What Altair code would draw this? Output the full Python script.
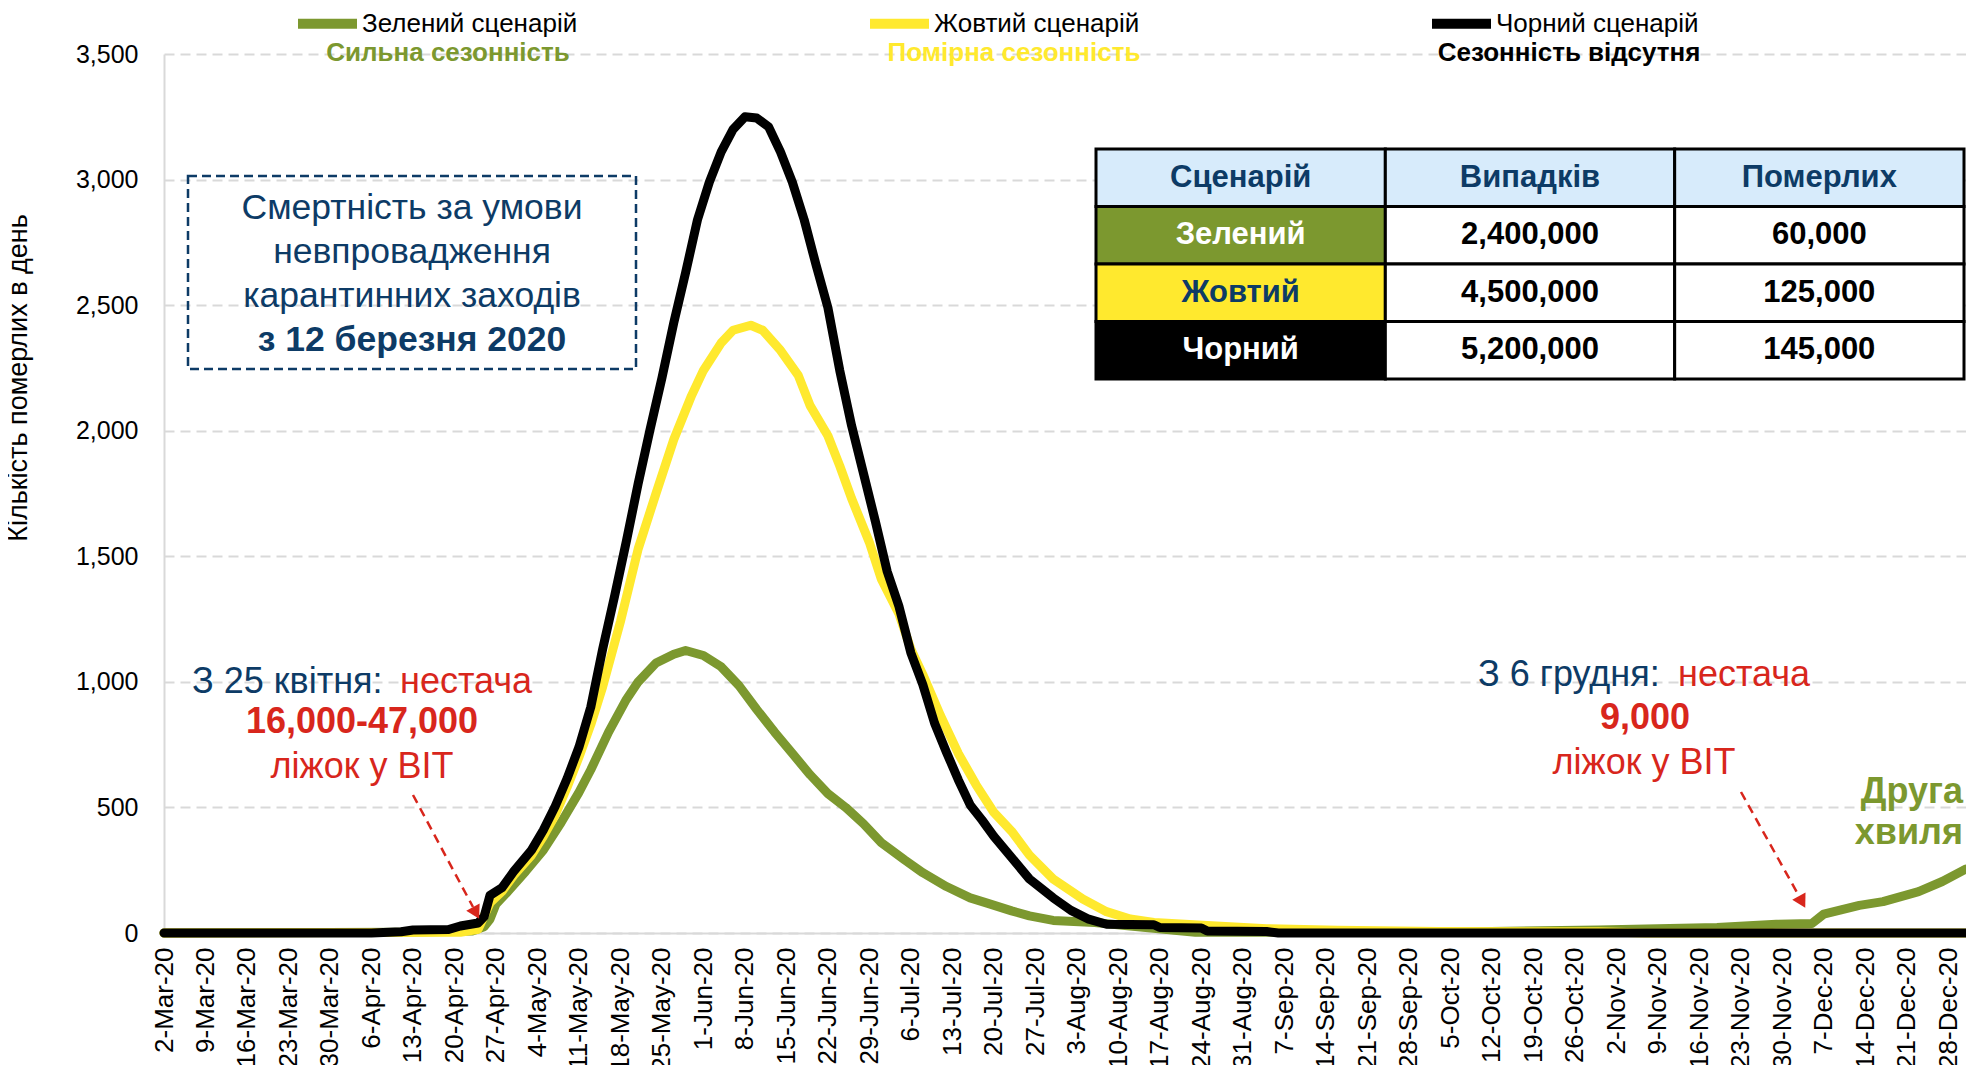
import altair as alt
import pandas as pd

FONT = "Liberation Sans"
NAVY = "#0D3B66"
RED = "#D8261C"
GREEN = "#7C982F"
YELLOW = "#FFE92E"
BLACK = "#000000"

SERIES = ["Зелений сценарій", "Жовтий сценарій", "Чорний сценарій"]
COLORS = [GREEN, YELLOW, BLACK]

GREEN_DATES = ["2020-03-02", "2020-04-11", "2020-04-23", "2020-04-25", "2020-04-26", "2020-04-27",
               "2020-04-29", "2020-05-02", "2020-05-05", "2020-05-08", "2020-05-11", "2020-05-13",
               "2020-05-16", "2020-05-19", "2020-05-21", "2020-05-24", "2020-05-27", "2020-05-29",
               "2020-06-01", "2020-06-04", "2020-06-07", "2020-06-10", "2020-06-13", "2020-06-16",
               "2020-06-19", "2020-06-22", "2020-06-25", "2020-06-28", "2020-07-01", "2020-07-05",
               "2020-07-08", "2020-07-12", "2020-07-16", "2020-07-19", "2020-07-23", "2020-07-26",
               "2020-07-30", "2020-08-06", "2020-08-12", "2020-08-19", "2020-08-23", "2020-10-03",
               "2020-10-30", "2020-11-19", "2020-11-29", "2020-12-05", "2020-12-07", "2020-12-13",
               "2020-12-17", "2020-12-23", "2020-12-27", "2020-12-31"]
GREEN_VALUES = [0, 3, 8, 25, 55, 115, 165, 245, 330, 440, 560, 650, 800, 930, 1000, 1075, 1110, 1125,
                1105, 1060, 985, 890, 800, 715, 630, 555, 500, 435, 360, 290, 240, 185, 140, 118, 88, 68,
                50, 42, 28, 12, 3, 3, 12, 22, 35, 38, 75, 110, 125, 165, 205, 255]

YELLOW_DATES = ["2020-03-02", "2020-04-21", "2020-04-24", "2020-04-26", "2020-04-28", "2020-04-30",
                "2020-05-03", "2020-05-05", "2020-05-07", "2020-05-09", "2020-05-11", "2020-05-13",
                "2020-05-15", "2020-05-18", "2020-05-21", "2020-05-24", "2020-05-27", "2020-05-30",
                "2020-06-01", "2020-06-04", "2020-06-06", "2020-06-09", "2020-06-11", "2020-06-14",
                "2020-06-17", "2020-06-19", "2020-06-22", "2020-06-24", "2020-06-26", "2020-06-29",
                "2020-07-01", "2020-07-04", "2020-07-06", "2020-07-08", "2020-07-11", "2020-07-14",
                "2020-07-17", "2020-07-20", "2020-07-23", "2020-07-26", "2020-07-30", "2020-08-04",
                "2020-08-08", "2020-08-12", "2020-08-16", "2020-08-25", "2020-09-04", "2020-09-16",
                "2020-10-03", "2020-10-30", "2020-11-07", "2020-12-31"]
YELLOW_VALUES = [0, 3, 15, 120, 165, 230, 310, 385, 470, 580, 700, 830, 980, 1240, 1530, 1750, 1965, 2140,
                 2240, 2350, 2400, 2420, 2400, 2320, 2220, 2100, 1980, 1860, 1730, 1555, 1410, 1270, 1130,
                 1030, 865, 715, 590, 480, 405, 310, 215, 135, 85, 56, 42, 30, 17, 11, 6, 5, 0, 0]

BLACK_DATES = ["2020-03-02", "2020-04-06", "2020-04-11", "2020-04-13", "2020-04-19", "2020-04-21",
               "2020-04-24", "2020-04-25", "2020-04-26", "2020-04-28", "2020-04-30", "2020-05-03",
               "2020-05-05", "2020-05-07", "2020-05-09", "2020-05-11", "2020-05-13", "2020-05-15",
               "2020-05-17", "2020-05-19", "2020-05-21", "2020-05-23", "2020-05-25", "2020-05-27",
               "2020-05-29", "2020-05-31", "2020-06-02", "2020-06-04", "2020-06-06", "2020-06-08",
               "2020-06-10", "2020-06-12", "2020-06-14", "2020-06-16", "2020-06-18", "2020-06-20",
               "2020-06-22", "2020-06-24", "2020-06-26", "2020-06-28", "2020-06-30", "2020-07-02",
               "2020-07-04", "2020-07-06", "2020-07-08", "2020-07-10", "2020-07-12", "2020-07-14",
               "2020-07-16", "2020-07-18", "2020-07-20", "2020-07-23", "2020-07-26", "2020-07-30",
               "2020-08-02", "2020-08-05", "2020-08-08", "2020-08-16", "2020-08-17", "2020-08-24",
               "2020-08-25", "2020-09-04", "2020-09-06", "2020-12-31"]
BLACK_VALUES = [0, 0, 5, 12, 14, 28, 40, 65, 150, 180, 245, 330, 410, 505, 615, 740, 900, 1130, 1340,
                1560, 1790, 2005, 2210, 2430, 2630, 2840, 2990, 3110, 3200, 3250, 3245, 3210, 3110, 2990,
                2840, 2660, 2490, 2240, 2020, 1830, 1640, 1440, 1300, 1115, 990, 835, 720, 610, 510, 450,
                385, 300, 215, 140, 90, 55, 35, 33, 22, 20, 8, 6, 0, 0]

X_TICKS = ["2020-03-02", "2020-03-09", "2020-03-16", "2020-03-23", "2020-03-30", "2020-04-06",
           "2020-04-13", "2020-04-20", "2020-04-27", "2020-05-04", "2020-05-11", "2020-05-18",
           "2020-05-25", "2020-06-01", "2020-06-08", "2020-06-15", "2020-06-22", "2020-06-29",
           "2020-07-06", "2020-07-13", "2020-07-20", "2020-07-27", "2020-08-03", "2020-08-10",
           "2020-08-17", "2020-08-24", "2020-08-31", "2020-09-07", "2020-09-14", "2020-09-21",
           "2020-09-28", "2020-10-05", "2020-10-12", "2020-10-19", "2020-10-26", "2020-11-02",
           "2020-11-09", "2020-11-16", "2020-11-23", "2020-11-30", "2020-12-07", "2020-12-14",
           "2020-12-21", "2020-12-28"]
Y_TICKS = [0, 500, 1000, 1500, 2000, 2500, 3000, 3500]

TABLE_HEADER = ["Сценарій", "Випадків", "Померлих"]
TABLE_NAMES = ["Зелений", "Жовтий", "Чорний"]
TABLE_CASES = ["2,400,000", "4,500,000", "5,200,000"]
TABLE_DEATHS = ["60,000", "125,000", "145,000"]
TABLE_NAME_FILLS = [GREEN, YELLOW, BLACK]
TABLE_NAME_TEXT = ["#FFFFFF", NAVY, "#FFFFFF"]

# ---------- data tables ----------
frames = []
for name, dates, vals in zip(SERIES, [GREEN_DATES, YELLOW_DATES, BLACK_DATES],
                             [GREEN_VALUES, YELLOW_VALUES, BLACK_VALUES]):
    frames.append(pd.DataFrame({"date": dates, "value": vals, "series": name}))
lines_df = pd.concat(frames, ignore_index=True)


def ms(s):
    return int(pd.Timestamp(s, tz="UTC").timestamp() * 1000)


x_scale = alt.Scale(type="utc", domain=[ms("2020-03-02"), ms("2020-12-31")])
y_scale = alt.Scale(domain=[0, 3500], nice=False)

x_axis = alt.Axis(values=[ms(t) for t in X_TICKS],
                  labelExpr="utcFormat(datum.value, '%-d-%b-%y')",
                  labelAngle=270, labelFont=FONT, labelFontSize=26, labelColor="black",
                  labelPadding=14, labelOverlap=False, labelFlush=False, labelBound=False,
                  ticks=False, grid=False, domainColor="#D9D9D9", domainWidth=2, title=None)
y_axis = alt.Axis(values=Y_TICKS, format=",.0f", labelFont=FONT, labelFontSize=25,
                  labelColor="black", labelPadding=26, ticks=False, domainColor="#D9D9D9",
                  domainWidth=2, grid=True, gridColor="#D9D9D9", gridWidth=2,
                  gridDash=[10, 6], title=None)

legend = alt.Legend(orient="none", legendX=129, legendY=-65, direction="horizontal", columns=3,
                    columnPadding=272, symbolType="stroke", symbolStrokeWidth=10, symbolSize=3481,
                    labelFont=FONT, labelFontSize=26, labelColor="black", labelOffset=0,
                    title=None, padding=0, gridAlign="each", labelLimit=400)

base = alt.Chart(lines_df).mark_line(strokeWidth=9, strokeJoin="round", strokeCap="round").encode(
    x=alt.X("date:T", scale=x_scale, axis=x_axis),
    y=alt.Y("value:Q", scale=y_scale, axis=y_axis),
    color=alt.Color("series:N", scale=alt.Scale(domain=SERIES, range=COLORS), legend=legend),
)
line_layers = [base.transform_filter(alt.datum.series == s) for s in SERIES]

one = pd.DataFrame({"k": [0]})


def label(text, x, y, color, size=36, bold=False, align="center", angle=0):
    return alt.Chart(one).mark_text(
        text=text, font=FONT, fontSize=size, fontWeight="bold" if bold else "normal",
        color=color, align=align, baseline="middle", angle=angle
    ).encode(x=alt.value(x), y=alt.value(y))


def dashed_arrow(x1, y1, x2, y2, hx, hy, ang):
    shaft = alt.Chart(one).mark_rule(color=RED, strokeWidth=2.5, strokeDash=[9, 6]).encode(
        x=alt.value(x1), y=alt.value(y1), x2=alt.value(x2), y2=alt.value(y2))
    head = alt.Chart(one).mark_point(shape="triangle", filled=True, size=230, angle=ang,
                                     color=RED, opacity=1).encode(x=alt.value(hx), y=alt.value(hy))
    return [shaft, head]


annots = [
    # axis title
    label("Кількість померлих в день", -145, 324, "black", size=27, angle=270),
    # legend subtitles
    label("Сильна сезонність", 284, -1, GREEN, size=26, bold=True),
    label("Помірна сезонність", 850, -1, YELLOW, size=26, bold=True),
    label("Сезонність відсутня", 1405, -1, BLACK, size=26, bold=True),
    # dashed box
    alt.Chart(one).mark_rect(fill="white", fillOpacity=0, stroke=NAVY, strokeWidth=2.5,
                             strokeDash=[9, 5]).encode(
        x=alt.value(24), x2=alt.value(472), y=alt.value(122), y2=alt.value(315)),
    label("Смертність за умови", 248, 154, NAVY, size=35.5),
    label("невпровадження", 248, 198, NAVY, size=35.5),
    label("карантинних заходів", 248, 242, NAVY, size=35.5),
    label("з 12 березня 2020", 248, 286, NAVY, size=35.5, bold=True),
    # left annotation
    label("З 25 квітня:", 28, 628, NAVY, align="left"),
    label("нестача", 368, 628, RED, align="right"),
    label("16,000-47,000", 198, 668, RED, bold=True),
    label("ліжок у ВІТ", 198, 713, RED),
    # right annotation
    label("З 6 грудня:", 1314, 621, NAVY, align="left"),
    label("нестача", 1646, 621, RED, align="right"),
    label("9,000", 1481, 664, RED, bold=True),
    label("ліжок у ВІТ", 1480, 709, RED),
    label("Друга", 1799, 738, GREEN, bold=True, align="right"),
    label("хвиля", 1799, 779, GREEN, bold=True, align="right"),
]
annots += dashed_arrow(249, 741, 309, 853, 311, 857, 152)
annots += dashed_arrow(1577, 738, 1635, 842, 1637, 846, 151)

main = alt.layer(*line_layers, *annots)

# ---------- table ----------
cells = []
for c, h in enumerate(TABLE_HEADER):
    cells.append({"col": c, "row": 0, "text": h, "fill": "#D7EBFB", "tcolor": NAVY})
for r in range(3):
    cells.append({"col": 0, "row": r + 1, "text": TABLE_NAMES[r], "fill": TABLE_NAME_FILLS[r],
                  "tcolor": TABLE_NAME_TEXT[r]})
    cells.append({"col": 1, "row": r + 1, "text": TABLE_CASES[r], "fill": "#FFFFFF", "tcolor": "#000000"})
    cells.append({"col": 2, "row": r + 1, "text": TABLE_DEATHS[r], "fill": "#FFFFFF", "tcolor": "#000000"})
cells_df = pd.DataFrame(cells)

tx = alt.X("col:O", scale=alt.Scale(domain=[0, 1, 2], range=[932, 1800], paddingInner=0,
                                    paddingOuter=0), axis=None)
ty = alt.Y("row:O", scale=alt.Scale(domain=[0, 1, 2, 3], range=[95, 325], paddingInner=0,
                                    paddingOuter=0), axis=None)
t_rect = alt.Chart(cells_df).mark_rect(stroke="black", strokeWidth=3).encode(
    x=tx, y=ty, fill=alt.Fill("fill:N", scale=None, legend=None))
t_text = alt.Chart(cells_df).mark_text(font=FONT, fontSize=31, fontWeight="bold",
                                       baseline="middle").encode(
    x=tx, y=ty, text="text:N", color=alt.Color("tcolor:N", scale=None, legend=None))
table = alt.layer(t_rect, t_text)

chart = alt.layer(main, table).resolve_scale(
    x="independent", y="independent", color="independent"
).properties(
    width=1802, height=879,
    padding={"left": 156, "top": 46, "right": 0, "bottom": 132},
    autosize=alt.AutoSizeParams(type="none"),
    background="white",
).configure_view(stroke=None)

chart.save("out.html", embed_options={"renderer": "svg", "actions": False})
